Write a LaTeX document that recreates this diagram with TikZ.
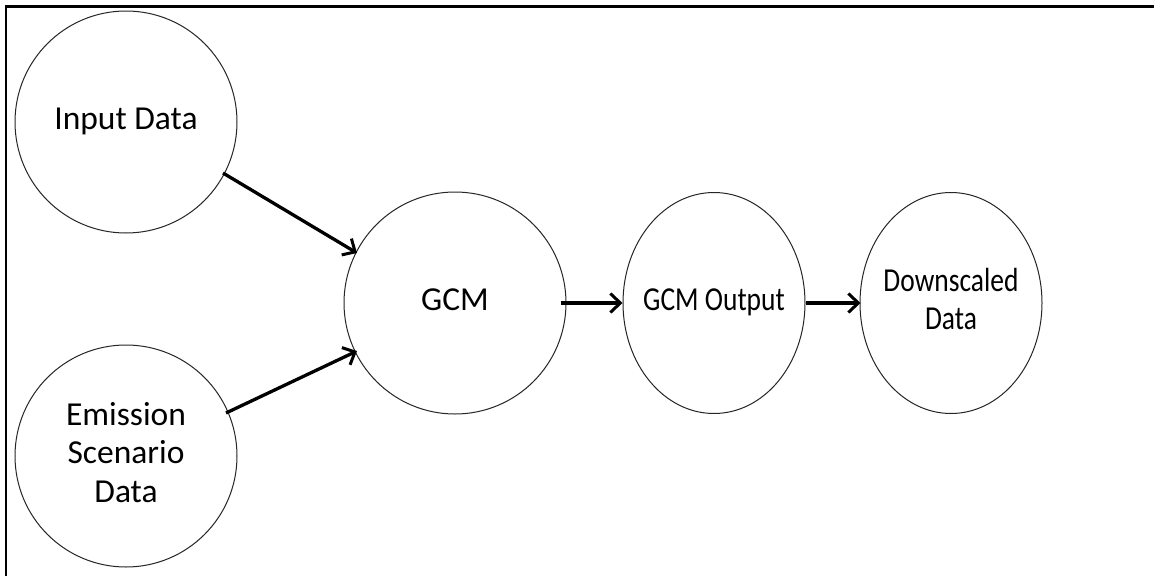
\documentclass[tikz,border=0pt]{standalone}
\usepackage{graphicx}
\usepackage{fontspec}
\setmainfont{Carlito}
\usetikzlibrary{arrows.meta,shapes.geometric}
\newcommand{\zw}[1]{\makebox[0pt][c]{\begin{tabular}{@{}c@{}}#1\end{tabular}}}
\newcommand{\zwn}[1]{\makebox[0pt][c]{\scalebox{0.82}[1]{\begin{tabular}{@{}c@{}}#1\end{tabular}}}}
\begin{document}
\begin{tikzpicture}[x=1pt,y=-1pt,
  bubble/.style={draw=black!85,line width=1pt,fill=white,inner sep=0pt,
    font=\fontsize{33.5}{38.5}\selectfont},
  flow/.style={line width=3.3pt,-{Straight Barb[length=10pt,width=19pt,line width=3pt]}},
  frame/.style={line width=2.4pt}]
\useasboundingbox (0,0) rectangle (1154,576);
\fill[white] (0,0) rectangle (1154,576);
\draw[frame] (1154,6.5) -- (6,6.5) -- (6,576);
\node[bubble,circle,minimum size=222pt] (inp) at (126,122) {\zw{Input Data}};
\node[bubble,circle,minimum size=222pt] (emi) at (126,456) {\zw{Emission\\Scenario\\Data}};
\node[bubble,circle,minimum size=222pt] (gcm) at (455,303) {\zw{GCM}};
\node[bubble,ellipse,minimum width=182pt,minimum height=221pt] (out) at (714,303) {\zwn{GCM Output}};
\node[bubble,ellipse,minimum width=182pt,minimum height=221pt] (dwn) at (951,303) {\zwn{Downscaled\\Data}};
\coordinate (a1s) at (223,173); \coordinate (a1e) at (357,253);
\coordinate (a2s) at (226,413); \coordinate (a2e) at (357,351);
\draw[flow] (a1s) -- (a1e);
\draw[flow] (a2s) -- (a2e);
\draw[flow] ([xshift=-6pt]gcm.east) -- (out.west);
\draw[flow] (out.east) -- ([xshift=1pt]dwn.west);
\end{tikzpicture}
\end{document}
